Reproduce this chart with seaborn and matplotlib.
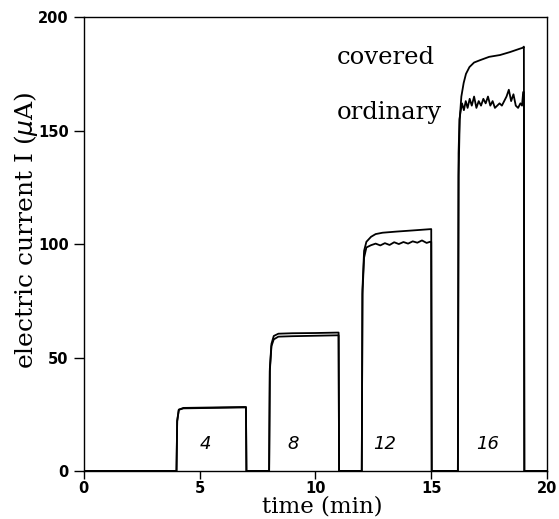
import matplotlib
matplotlib.use("Agg")
import matplotlib.pyplot as plt
import seaborn as sns
import pandas as pd

# covered sample
t_cov = [0, 4.0, 4.03, 4.1, 4.3, 6.9, 7.0, 7.02, 8.0, 8.03, 8.1, 8.2, 8.4, 9.0, 10.0, 11.0, 11.02,
         12.0, 12.03, 12.1, 12.2, 12.4, 12.6, 12.9, 13.5, 14.2, 15.0, 15.02,
         16.15, 16.18, 16.23, 16.3, 16.4, 16.5, 16.65, 16.85, 17.1, 17.5, 17.97, 18.4, 18.8, 18.95, 19.0, 19.02, 20.0]
I_cov = [0, 0, 22, 27, 27.8, 28.2, 28.2, 0, 0, 45, 56, 59.5, 60.5, 60.7, 60.8, 61, 0,
         0, 80, 97, 101, 103.2, 104.4, 105, 105.5, 106, 106.6, 0,
         0, 130, 155, 165, 171, 175, 178, 180, 181, 182.5, 183.3, 184.6, 186, 186.5, 187, 0, 0]

# ordinary sample
t_ord = [0, 4.0, 4.03, 4.1, 4.3, 6.9, 7.0, 7.02, 8.0, 8.03, 8.1, 8.2, 8.4, 9.0, 10.0, 11.0, 11.02,
         12.0, 12.03, 12.1, 12.2, 12.4, 12.6, 12.8, 13.0, 13.2, 13.4, 13.6, 13.8, 14.0, 14.2, 14.4, 14.6, 14.8, 14.95, 15.0, 15.02,
         16.15, 16.18, 16.22, 16.26, 16.33, 16.41, 16.49, 16.57, 16.66, 16.75, 16.85, 16.95, 17.05, 17.15, 17.25,
         17.35, 17.45, 17.55, 17.65, 17.75, 17.85, 17.95, 18.05, 18.15, 18.25, 18.35, 18.45, 18.55, 18.65,
         18.75, 18.85, 18.92, 18.97, 19.0, 19.02, 20.0]
I_ord = [0, 0, 22, 27, 27.6, 28.0, 28.0, 0, 0, 44, 55, 58, 59.2, 59.4, 59.6, 59.8, 0,
         0, 78, 94, 98.5, 99.5, 100.2, 99.4, 100.4, 99.6, 100.8, 100.0, 100.9, 100.2, 101.2, 100.6, 101.6, 100.5, 101.0, 101.0, 0,
         0, 140, 155, 158, 162, 159, 163, 160, 164, 161, 165, 160, 163, 161, 164,
         162, 165, 161, 163, 160, 161, 162, 161, 163, 165, 168, 163, 166, 161,
         160, 162, 161, 167, 167, 0, 0]

block_labels = ["4", "8", "12", "16"]
block_label_x = [5.23, 9.05, 13.0, 17.45]

sns.set_style("ticks")
plt.rcParams["font.family"] = ["DejaVu Sans"]

fig = plt.figure(figsize=(5.59, 5.19), dpi=100)
ax = fig.add_axes([0.150, 0.0925, 0.8286, 0.8745])

df_c = pd.DataFrame({"t": t_cov, "I": I_cov})
df_o = pd.DataFrame({"t": t_ord, "I": I_ord})
sns.lineplot(data=df_c, x="t", y="I", ax=ax, color="black", lw=1.3, sort=False, estimator=None)
sns.lineplot(data=df_o, x="t", y="I", ax=ax, color="black", lw=1.3, sort=False, estimator=None)

ax.set_xlim(0, 20)
ax.set_ylim(0, 200)
ax.set_xticks([0, 5, 10, 15, 20])
ax.set_yticks([0, 50, 100, 150, 200])
ax.tick_params(axis="x", direction="out", length=6, width=1, pad=1.5, labelsize=10.5, colors="black")
ax.tick_params(axis="y", direction="out", length=7, width=1, pad=4, labelsize=10.5, colors="black")
for lab in ax.get_xticklabels() + ax.get_yticklabels():
    lab.set_fontfamily("DejaVu Sans")
    lab.set_fontweight("bold")
for s in ax.spines.values():
    s.set_linewidth(1.0)
    s.set_color("black")

serif = "DejaVu Serif"
ax.set_xlabel("time (min)", fontsize=16.5, family=serif, color="black")
ax.set_ylabel(r"electric current I ($\mu$A)", fontsize=18, family=serif, color="black")
ax.xaxis.set_label_coords(0.514, -0.053)
ax.yaxis.set_label_coords(-0.094, 0.53)

ax.text(10.93, 182.4, "covered", fontsize=17.5, family=serif, ha="left", va="center", color="black")
ax.text(10.93, 158, "ordinary", fontsize=17.5, family=serif, ha="left", va="center", color="black")

for lbl, x in zip(block_labels, block_label_x):
    ax.text(x, 12.1, lbl, fontsize=13, family="DejaVu Sans", style="italic", ha="center", va="center", color="black")

fig.savefig("out.png", dpi=100)
